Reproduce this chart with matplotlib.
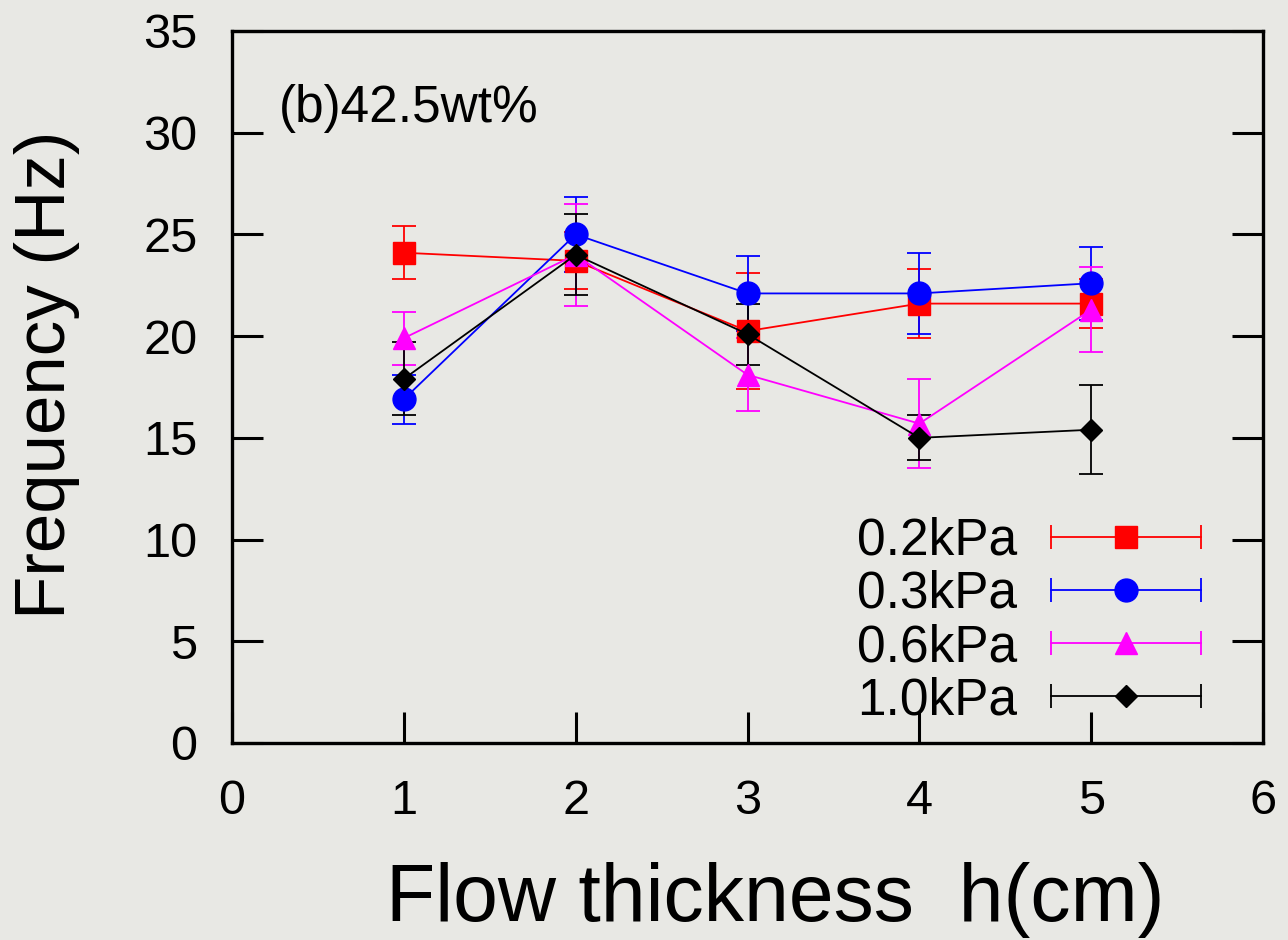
import matplotlib
matplotlib.use("Agg")
import matplotlib.pyplot as plt
from matplotlib.legend_handler import HandlerBase
from matplotlib.lines import Line2D

plt.rcParams['font.family'] = ['Liberation Sans', 'DejaVu Sans']

# ---- data ----
h = [1, 2, 3, 4, 5]
labels = ['0.2kPa', '0.3kPa', '0.6kPa', '1.0kPa']
f_02 = [24.1, 23.7, 20.25, 21.6, 21.6]
e_02 = [1.3, 1.4, 2.85, 1.7, 1.2]
f_03 = [16.9, 25.0, 22.1, 22.1, 22.6]
e_03 = [1.2, 1.85, 1.85, 2.0, 1.8]
f_06 = [19.9, 24.0, 18.1, 15.7, 21.3]
e_06 = [1.3, 2.5, 1.8, 2.2, 2.1]
f_10 = [17.9, 24.0, 20.1, 15.0, 15.4]
e_10 = [1.8, 2.0, 1.5, 1.1, 2.2]
xticks = [0, 1, 2, 3, 4, 5, 6]
yticks = [0, 5, 10, 15, 20, 25, 30, 35]

series = [
    (f_02, e_02, '#ff0000', 's', 16.5),
    (f_03, e_03, '#0000ff', 'o', 16.5),
    (f_06, e_06, '#ff00ff', '^', 16.5),
    (f_10, e_10, '#000000', 'D', 11.5),
]

bg = '#e8e8e4'
fig = plt.figure(figsize=(12.88, 9.40), dpi=100, facecolor=bg)
ax = fig.add_axes([232/1288, 1-743/940, (1263-232)/1288, (743-31)/940])
ax.set_facecolor(bg)

handles = []
for (y, e, c, m, ms), lab in zip(series, labels):
    ax.errorbar(h, y, yerr=e, color=c, marker=m, markersize=ms, lw=1.3,
                elinewidth=1.3, capsize=8.5, capthick=1.3)
    handles.append(Line2D([], [], color=c, marker=m, markersize=ms, lw=1.3, label=lab))


class ErrHandler(HandlerBase):
    def create_artists(self, legend, orig, xdescent, ydescent, width, height,
                       fontsize, trans):
        y0 = height / 2 - ydescent
        x0, x1 = -xdescent, width - xdescent
        c = orig.get_color()
        ln = Line2D([x0, x1], [y0, y0], color=c, lw=1.3)
        caps = Line2D([x0, x1], [y0, y0], color=c, lw=0, marker='|',
                      markersize=17, markeredgewidth=1.3)
        mk = Line2D([(x0 + x1) / 2], [y0], color=c, lw=0,
                    marker=orig.get_marker(), markersize=orig.get_markersize())
        for a in (ln, caps, mk):
            a.set_transform(trans)
        return [ln, caps, mk]


leg = ax.legend(handles=handles, loc='lower right',
                bbox_to_anchor=(0.94, 0.025), frameon=False, markerfirst=False,
                fontsize=37, handlelength=2.92, handletextpad=0.66,
                labelspacing=0.08, borderpad=0, borderaxespad=0,
                handler_map={Line2D: ErrHandler()})

ax.set_xlim(0, 6)
ax.set_ylim(0, 35)
ax.set_xticks(xticks)
ax.set_yticks(yticks)
ax.tick_params(direction='in', length=22, width=2.2, labelsize=35,
               top=False, right=True, pad=25)
ax.tick_params(axis='x', pad=26)
for s in ax.spines.values():
    s.set_linewidth(2.4)

ax.text(0.045, 0.891, '(b)42.5wt%', transform=ax.transAxes, fontsize=37,
        va='center', ha='left')

ax.set_xlabel('Flow thickness  h(cm)', fontsize=58)
ax.set_ylabel('Frequency (Hz)', fontsize=51)
ax.xaxis.set_label_coords((775-232)/1031, -(900-743)/712)
ax.yaxis.set_label_coords(-(232-47)/1031, (743-375)/712)
ax.xaxis.label.set_va('center')
ax.yaxis.label.set_va('center')

fig.savefig('out.png', dpi=100, facecolor=bg)
